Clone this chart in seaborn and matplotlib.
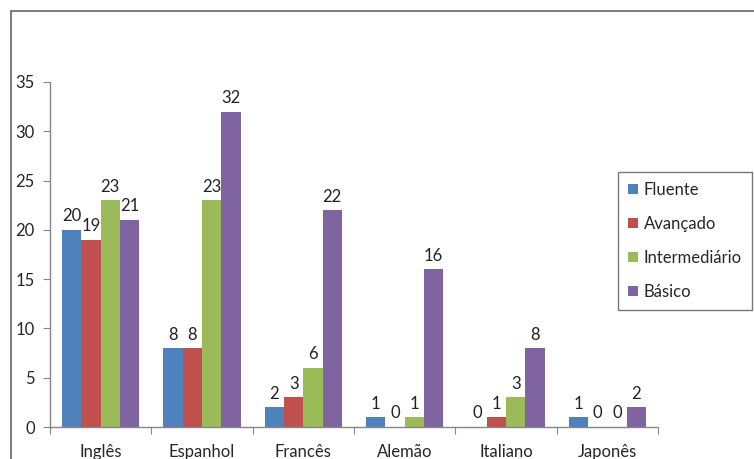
import matplotlib
matplotlib.use("Agg")
import matplotlib.pyplot as plt
import seaborn as sns
import pandas as pd
from matplotlib.lines import Line2D

categories = ["Inglês", "Espanhol", "Francês", "Alemão", "Italiano", "Japonês"]
series = ["Fluente", "Avançado", "Intermediário", "Básico"]
fluente = [20, 8, 2, 1, 0, 1]
avancado = [19, 8, 3, 0, 1, 0]
intermediario = [23, 23, 6, 1, 3, 0]
basico = [21, 32, 22, 16, 8, 2]
colors = ["#4F81BD", "#C0504D", "#9BBB59", "#8064A2"]

rows = []
for name, vals in zip(series, [fluente, avancado, intermediario, basico]):
    for c, v in zip(categories, vals):
        rows.append({"Idioma": c, "Nível": name, "Valor": v})
df = pd.DataFrame(rows)

sns.set_style("white")
plt.rcParams['font.family'] = ['Lato', 'DejaVu Sans']
FS = 12

fig = plt.figure(figsize=(7.54, 4.59), dpi=100)
ax = fig.add_axes([50/754, 1-427/459, (658-50)/754, (427-82)/459])

sns.barplot(data=df, x="Idioma", y="Valor", hue="Nível", palette=colors,
            hue_order=series, order=categories, width=0.76, ax=ax,
            saturation=1, errorbar=None, legend=True, linewidth=0)

for cont in ax.containers:
    ax.bar_label(cont, labels=[f"{int(b.get_height())}" for b in cont],
                 padding=4, fontsize=FS, color="#222222")

ax.set_ylim(0, 35)
ax.set_yticks(range(0, 36, 5))
ax.set_xlim(-0.5, 5.5)
ax.set_xlabel("")
ax.set_ylabel("")
ax.set_xticks([i - 0.5 for i in range(7)], minor=False)
ax.set_xticklabels([])
ax.set_xticks(range(6), minor=True)
ax.set_xticklabels(categories, minor=True, fontsize=FS)
ax.tick_params(axis="x", which="minor", length=0, pad=12)
ax.tick_params(axis="x", which="major", length=5, color="#868686", direction="out", bottom=True)
ax.tick_params(axis="y", length=5, color="#868686", direction="out", left=True, labelsize=FS, pad=6)

for s in ["top", "right"]:
    ax.spines[s].set_visible(False)
for s in ["left", "bottom"]:
    ax.spines[s].set_color("#868686")
    ax.spines[s].set_linewidth(1.0)

handles, labels = ax.get_legend_handles_labels()
ax.legend_.remove()
leg = fig.legend(handles, labels, loc="upper left",
                 bbox_to_anchor=(618/754, 1-172/459), bbox_transform=fig.transFigure,
                 frameon=True, fancybox=False, fontsize=FS, labelspacing=1.08,
                 handlelength=0.6, handleheight=0.6, handletextpad=0.35,
                 borderpad=0.6, borderaxespad=0)
leg.get_frame().set_edgecolor("#555555")
leg.get_frame().set_linewidth(1.0)

fig.add_artist(Line2D([11/754, 11/754], [0, 1-11/459], transform=fig.transFigure,
                      color="#808080", lw=1.5))
fig.add_artist(Line2D([11/754, 1], [1-11/459, 1-11/459], transform=fig.transFigure,
                      color="#808080", lw=1.5))

fig.savefig("out.png", dpi=100)
